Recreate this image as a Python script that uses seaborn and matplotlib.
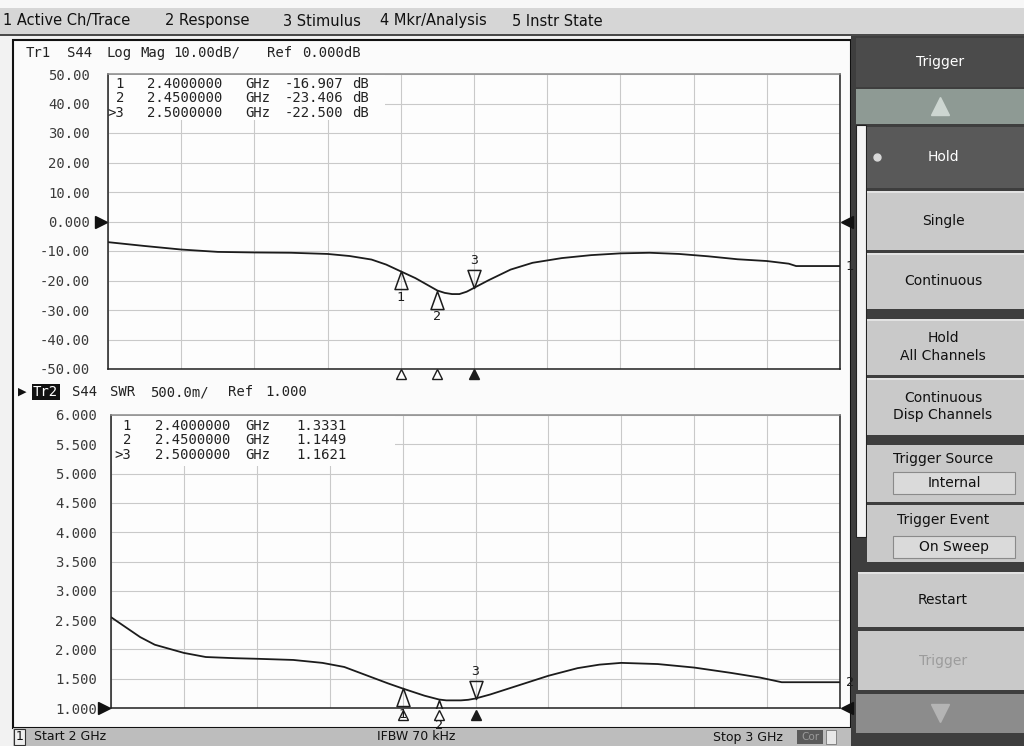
import matplotlib
matplotlib.use("Agg")

import numpy as np
import pandas as pd
import matplotlib.pyplot as plt
import seaborn as sns
from matplotlib.patches import Rectangle
from matplotlib.path import Path

# ---------------------------------------------------------------------------
# Dados lidos da tela (S44, 2-3 GHz)
# ---------------------------------------------------------------------------
freq_db = [2.00, 2.05, 2.10, 2.15, 2.20, 2.25, 2.30, 2.33, 2.36, 2.38, 2.40,
           2.42, 2.44, 2.45, 2.46, 2.47, 2.48, 2.49, 2.50, 2.52, 2.55, 2.58,
           2.62, 2.66, 2.70, 2.74, 2.78, 2.82, 2.86, 2.90, 2.93, 2.94, 3.00]
s44_db = [-7.0, -8.3, -9.5, -10.3, -10.5, -10.6, -11.0, -11.7, -12.9, -14.6, -16.907,
          -19.2, -22.0, -23.406, -24.2, -24.6, -24.6, -23.8, -22.5, -19.9, -16.3, -14.0,
          -12.4, -11.4, -10.8, -10.6, -11.0, -11.8, -12.8, -13.4, -14.3, -15.1, -15.1]

freq_swr = [2.00, 2.04, 2.06, 2.10, 2.13, 2.17, 2.20, 2.25, 2.29, 2.32, 2.35,
            2.38, 2.40, 2.43, 2.45, 2.46, 2.48, 2.49, 2.50, 2.52, 2.55, 2.60,
            2.64, 2.67, 2.70, 2.75, 2.80, 2.85, 2.89, 2.92, 3.00]
s44_swr = [2.55, 2.21, 2.08, 1.94, 1.87, 1.85, 1.84, 1.82, 1.77, 1.70, 1.56,
           1.42, 1.3331, 1.21, 1.1449, 1.13, 1.13, 1.14, 1.1621, 1.23, 1.35, 1.55,
           1.68, 1.74, 1.77, 1.75, 1.69, 1.60, 1.52, 1.44, 1.44]

marker_ids = ["1", "2", "3"]
marker_freq = [2.40, 2.45, 2.50]
marker_db = [-16.907, -23.406, -22.500]
marker_swr = [1.3331, 1.1449, 1.1621]
active_marker = "3"

db_ticks = [50, 40, 30, 20, 10, 0, -10, -20, -30, -40, -50]
swr_ticks = [6.0, 5.5, 5.0, 4.5, 4.0, 3.5, 3.0, 2.5, 2.0, 1.5, 1.0]
freq_ticks = [2.0, 2.1, 2.2, 2.3, 2.4, 2.5, 2.6, 2.7, 2.8, 2.9, 3.0]
ref_db = 0.0
ref_swr = 1.0

hdr_tr1 = "Tr1 S44 Log Mag 10.00dB/ Ref 0.000dB"
hdr_tr2 = "S44 SWR 500.0m/ Ref 1.000"
menu_items = ["1 Active Ch/Trace", "2 Response", "3 Stimulus", "4 Mkr/Analysis", "5 Instr State"]
softkeys = ["Single", "Continuous", "Hold\nAll Channels", "Continuous\nDisp Channels",
            "Restart"]

W, H = 1024, 746
MONO = "DejaVu Sans Mono"
UI = "DejaVu Sans"
TRACE = "#1c1c1c"

sns.set_theme(style="white")
plt.rcParams["font.family"] = [UI]


# ---------------------------------------------------------------------------
# Helpers
# ---------------------------------------------------------------------------

def px_axes(fig, l, t, r, b, **kw):
    return fig.add_axes([l / W, 1 - b / H, (r - l) / W, (b - t) / H], **kw)


def box(ax, x0, y0, x1, y1, fc, ec="none", lw=0.0):
    ax.add_patch(Rectangle((x0, y0), x1 - x0, y1 - y0, fc=fc, ec=ec, lw=lw))


def put(ax, x, y, s, size=10, family=MONO, color="#222222", ha="left", va="center", **kw):
    ax.text(x, y, s, fontsize=size, family=family, color=color, ha=ha, va=va, **kw)


def tokens(ax, x_lefts, y, text, **kw):
    for x, tok in zip(x_lefts, text.split()):
        put(ax, x, y, tok, **kw)


UP_TRI = Path([(0, 0), (-0.36, -1), (0.36, -1), (0, 0)],
              [Path.MOVETO, Path.LINETO, Path.LINETO, Path.CLOSEPOLY])
DOWN_TRI = Path([(0, 0), (-0.36, 1), (0.36, 1), (0, 0)],
                [Path.MOVETO, Path.LINETO, Path.LINETO, Path.CLOSEPOLY])


def style_trace_axes(ax, ticks, labels, ylim, pad):
    ax.set_xlim(2.0, 3.0)
    ax.set_ylim(*ylim)
    ax.set_xticks(freq_ticks)
    ax.set_xticklabels([])
    ax.set_yticks(ticks)
    ax.set_yticklabels(labels, family=MONO, fontsize=10, color="#3a3a3a")
    ax.tick_params(length=0, pad=pad)
    ax.grid(True, color="#c9c9c9", lw=0.8)
    ax.set_facecolor("#fdfdfd")
    for side, sp in ax.spines.items():
        sp.set_color("#202020")
        sp.set_linewidth(1.1)
    ax.spines["top"].set_color("#8a8a8a")
    ax.set_xlabel("")
    ax.set_ylabel("")


def draw_markers(ax, values, axis_y):
    for mid, f, v in zip(marker_ids, marker_freq, values):
        active = mid == active_marker
        path = DOWN_TRI if active else UP_TRI
        ax.plot([f], [v], marker=path, ms=26, mfc="none", mec=TRACE, mew=1.1,
                ls="none", zorder=5)
        if active:
            ax.annotate(mid, (f, v), xytext=(0, 15), textcoords="offset points",
                        ha="center", va="bottom", family=MONO, fontsize=9.5, color=TRACE)
        else:
            ax.annotate(mid, (f, v), xytext=(0, -14), textcoords="offset points",
                        ha="center", va="top", family=MONO, fontsize=9.5, color=TRACE)
        ax.plot([f], [axis_y], marker="^", ms=7.5, mfc=TRACE if active else "white",
                mec=TRACE, mew=1.0, ls="none", transform=ax.get_xaxis_transform(),
                clip_on=False)


def ref_arrows(ax, ref):
    tr = ax.get_yaxis_transform()
    ax.plot([-0.009], [ref], marker=">", ms=8, color="#111111", transform=tr, clip_on=False)
    ax.plot([1.009], [ref], marker="<", ms=8, color="#111111", transform=tr, clip_on=False)


# ---------------------------------------------------------------------------
# Figura
# ---------------------------------------------------------------------------
fig = plt.figure(figsize=(W / 100, H / 100), dpi=100)
fig.patch.set_facecolor("#f2f2f2")

bg = fig.add_axes([0, 0, 1, 1], zorder=0)
bg.set_xlim(0, W)
bg.set_ylim(H, 0)
bg.axis("off")

# barra de menu
box(bg, 0, 0, W, 8, "#f7f7f7")
box(bg, 0, 8, W, 35, "#d6d6d6")
box(bg, 0, 34, W, 36, "#4a4a4a")

# painel dos gráficos e barra de status
box(bg, 13, 40, 851, 728, "#fbfbfb", ec="#111111", lw=1.5)
box(bg, 13, 728, 851, 746, "#bdbdbd")
box(bg, 14, 729, 25, 745, "#efefef", ec="#333333", lw=0.8)
box(bg, 797, 730, 823, 744, "#5a5a5a")
box(bg, 826, 730, 836, 744, "#e8e8e8", ec="#777777", lw=0.6)

# painel de softkeys
box(bg, 851, 36, W, H, "#3e3e3e")
box(bg, 856, 38, W, 87, "#4b4b4b")
box(bg, 856, 89, W, 124, "#8e9a94")
box(bg, 856, 125, 866, 537, "#f4f4f4", ec="#222222", lw=0.8)
box(bg, 867, 127, W, 188, "#595959")
key_spans = [(867, 191, 250), (867, 253, 309), (867, 319, 375), (867, 378, 435), (858, 572, 627)]
for (x0, y0, y1) in key_spans:
    box(bg, x0, y0, W, y1, "#c9c9c9")
    box(bg, x0, y0, W, y0 + 2, "#e2e2e2")
box(bg, 867, 445, W, 502, "#c9c9c9")
box(bg, 867, 505, W, 562, "#c9c9c9")
box(bg, 893, 472, 1015, 494, "#dadada", ec="#8a8a8a", lw=0.8)
box(bg, 893, 536, 1015, 558, "#dadada", ec="#8a8a8a", lw=0.8)
box(bg, 858, 631, W, 690, "#c9c9c9")
box(bg, 856, 694, W, 733, "#8c8c8c")
bg.plot([940], [106], marker="^", ms=13, color="#cdd6d1", ls="none")
bg.plot([940], [713], marker="v", ms=13, color="#b4b4b4", ls="none")
bg.plot([877], [157], marker="o", ms=5, color="#d8d8d8", ls="none")

# ---------------------------------------------------------------------------
# Traços
# ---------------------------------------------------------------------------
ax1 = px_axes(fig, 108, 74, 840, 369, zorder=2)
ax2 = px_axes(fig, 111, 415, 840, 708, zorder=2)

df_db = pd.DataFrame({"freq": freq_db, "val": s44_db})
df_swr = pd.DataFrame({"freq": freq_swr, "val": s44_swr})
sns.lineplot(data=df_db, x="freq", y="val", ax=ax1, color=TRACE, lw=1.3)
sns.lineplot(data=df_swr, x="freq", y="val", ax=ax2, color=TRACE, lw=1.3)

db_labels = ["0.000" if v == 0 else f"{v:.2f}" for v in db_ticks]
swr_labels = [f"{v:.3f}" for v in swr_ticks]
style_trace_axes(ax1, db_ticks, db_labels, (-50, 50), 13)
style_trace_axes(ax2, swr_ticks, swr_labels, (1.0, 6.0), 10)

draw_markers(ax1, marker_db, -0.016)
draw_markers(ax2, marker_swr, -0.024)
ref_arrows(ax1, ref_db)
ref_arrows(ax2, ref_swr)
ax1.text(1.008, s44_db[-1], "1", transform=ax1.get_yaxis_transform(), family=MONO,
         fontsize=9.5, va="center", ha="left", color=TRACE)
ax2.text(1.008, s44_swr[-1], "2", transform=ax2.get_yaxis_transform(), family=MONO,
         fontsize=9.5, va="center", ha="left", color=TRACE)

# ---------------------------------------------------------------------------
# Textos da tela
# ---------------------------------------------------------------------------
fg = fig.add_axes([0, 0, 1, 1], zorder=10)
fg.set_xlim(0, W)
fg.set_ylim(H, 0)
fg.axis("off")
fg.patch.set_alpha(0)

for x, s in zip([3, 165, 283, 380, 512], menu_items):
    put(fg, x, 21, s, size=10.5, family=UI, color="#111111")

tokens(fg, [26, 67, 107, 140, 173, 267, 302], 53, hdr_tr1)
put(fg, 22, 392, "\u25b6", size=8, family=UI, color="#111111", ha="center")
put(fg, 33, 392, "Tr2", color="white",
    bbox=dict(boxstyle="square,pad=0.1", fc="#111111", ec="none"))
tokens(fg, [72, 110, 150, 228, 265], 392, hdr_tr2)

# caixas de leitura dos marcadores
box(fg, 109, 75, 385, 120, "#fdfdfd")
box(fg, 112, 416, 395, 466, "#fdfdfd")
for i, (mid, f, v) in enumerate(zip(marker_ids, marker_freq, marker_db)):
    y = 84 + i * 14.5
    tag = ">" + mid if mid == active_marker else mid
    put(fg, 124, y, tag, ha="right")
    put(fg, 147, y, f"{f:.7f}")
    put(fg, 245, y, "GHz")
    put(fg, 343, y, f"{v:.3f}", ha="right")
    put(fg, 352, y, "dB")
for i, (mid, f, v) in enumerate(zip(marker_ids, marker_freq, marker_swr)):
    y = 426 + i * 14.5
    tag = ">" + mid if mid == active_marker else mid
    put(fg, 131, y, tag, ha="right")
    put(fg, 155, y, f"{f:.7f}")
    put(fg, 245, y, "GHz")
    put(fg, 347, y, f"{v:.4f}", ha="right")

# barra de status
put(fg, 19.5, 737, "1", size=9, family=UI, color="#111111", ha="center")
put(fg, 34, 737, "Start 2 GHz", size=9, family=UI, color="#111111")
put(fg, 377, 737, "IFBW 70 kHz", size=9, family=UI, color="#111111")
put(fg, 713, 737, "Stop 3 GHz", size=9, family=UI, color="#111111")
put(fg, 810, 737, "Cor", size=7.5, family=UI, color="#9a9a9a", ha="center")

# softkeys
KX = 943
put(fg, 940, 62, "Trigger", size=10, family=UI, color="white", ha="center")
put(fg, KX, 157, "Hold", size=10, family=UI, color="white", ha="center")
for (x0, y0, y1), s in zip(key_spans, softkeys):
    put(fg, KX, (y0 + y1) / 2, s, size=10, family=UI, color="#111111", ha="center",
        linespacing=1.35)
put(fg, KX, 459, "Trigger Source", size=10, family=UI, color="#111111", ha="center")
put(fg, 954, 483, "Internal", size=10, family=UI, color="#111111", ha="center")
put(fg, KX, 520, "Trigger Event", size=10, family=UI, color="#111111", ha="center")
put(fg, 954, 547, "On Sweep", size=10, family=UI, color="#111111", ha="center")
put(fg, KX, 661, "Trigger", size=10, family=UI, color="#9c9c9c", ha="center")

fig.savefig("out.png", dpi=100)
plt.close(fig)
